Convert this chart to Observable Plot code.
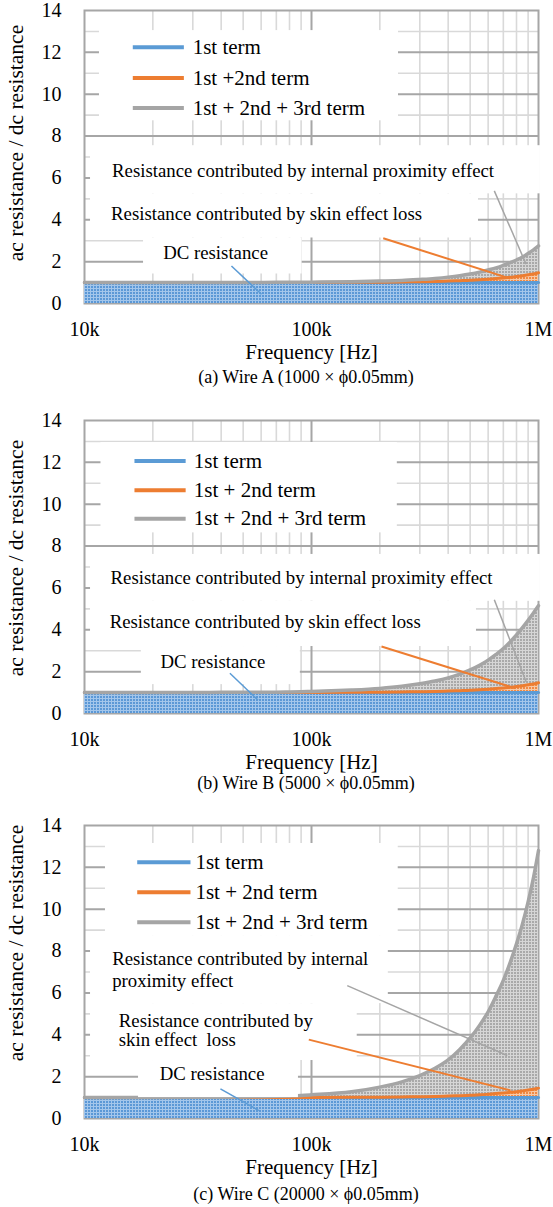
<!DOCTYPE html>
<html><head><meta charset="utf-8">
<script src="https://cdn.jsdelivr.net/npm/d3@7"></script>
<script src="https://cdn.jsdelivr.net/npm/@observablehq/plot@0.6"></script>
<style>
body{margin:0;background:#fff;}
#page{position:relative;width:553px;height:1207px;overflow:hidden;font-family:"Liberation Serif","Times New Roman",serif;background:#fff;}
.panel{position:absolute;left:0;}
.caption{position:absolute;left:0;width:612px;text-align:center;font-size:18px;line-height:22px;color:#000;white-space:pre;}
</style></head><body>
<svg width="0" height="0" style="position:absolute">
<defs>
<pattern id="gridBlue" width="3" height="3" patternUnits="userSpaceOnUse"><rect width="3" height="3" fill="#5b98d6"/><path d="M0 0.5H3M0.5 0V3" stroke="#a3c6eb" stroke-width="1"/></pattern>
<pattern id="gridOrange" width="3" height="3" patternUnits="userSpaceOnUse"><rect width="3" height="3" fill="#f08a45"/><path d="M0 0.5H3M0.5 0V3" stroke="#f8c9a6" stroke-width="1"/></pattern>
<pattern id="gridGray" width="3" height="3" patternUnits="userSpaceOnUse"><rect width="3" height="3" fill="#a9a9a9"/><path d="M0 0.5H3M0.5 0V3" stroke="#d6d6d6" stroke-width="1"/></pattern>
</defs></svg>
<div id="page"></div>
<script>
// ---------- data ----------
const freq = [10000,20000,30000,40000,50000,60000,70000,80000,90000,100000,150000,200000,250000,300000,350000,400000,450000,500000,550000,600000,650000,700000,750000,800000,850000,900000,950000,1000000];
const firstTerm = [1,1,1,1,1,1,1,1,1,1,1,1,1,1,1,1,1,1,1,1,1,1,1,1,1,1,1,1];
const skinA = [1,1,1,1,1,1,1,1,1,1,1.01,1.02,1.03,1.04,1.05,1.07,1.09,1.11,1.14,1.16,1.19,1.22,1.25,1.29,1.33,1.37,1.41,1.47];
const totalA = [1,1,1,1,1,1.005,1.01,1.01,1.015,1.02,1.04,1.07,1.1,1.15,1.2,1.26,1.33,1.41,1.5,1.6,1.7,1.82,1.95,2.08,2.22,2.39,2.56,2.75];
const skinB = [1,1,1,1,1,1,1,1,1,1,1.01,1.02,1.03,1.04,1.05,1.07,1.09,1.11,1.14,1.16,1.19,1.22,1.25,1.29,1.33,1.37,1.41,1.47];
const totalB = [1,1,1,1.01,1.01,1.02,1.02,1.03,1.04,1.05,1.12,1.2,1.3,1.42,1.55,1.7,1.88,2.08,2.3,2.55,2.82,3.1,3.42,3.75,4.1,4.45,4.8,5.15];
const skinC = [1,1,1,1,1,1,1,1,1,1,1.01,1.02,1.03,1.04,1.05,1.07,1.09,1.11,1.13,1.16,1.19,1.22,1.25,1.28,1.32,1.36,1.4,1.45];
const totalC = [1,1,1.01,1.02,1.03,1.04,1.06,1.08,1.1,1.13,1.28,1.5,1.75,2.05,2.4,2.8,3.3,3.85,4.45,5.1,5.85,6.6,7.45,8.35,9.3,10.35,11.5,12.8];

const xTicks = [10000,100000,1000000];
const xTickLabels = ["10k","100k","1M"];
const yTicks = [0,2,4,6,8,10,12,14];
const minorX = [20000,30000,40000,50000,60000,70000,80000,90000,200000,300000,400000,500000,600000,700000,800000,900000];
const majorX = [100000];
const minorY = [1,3,5,7,9,11,13];
const majorY = [2,4,6,8,10,12];

const yTitle = "ac resistance / dc resistance";
const xTitle = "Frequency [Hz]";
const legendA = ["1st term","1st +2nd term","1st + 2nd + 3rd term"];
const legendBC = ["1st term","1st + 2nd term","1st + 2nd + 3rd term"];
const captions = ["(a) Wire A (1000 × ϕ0.05mm)","(b) Wire B (5000 × ϕ0.05mm)","(c) Wire C (20000 × ϕ0.05mm)"];

// legend anchor points (frequency, ratio) per panel
const legendRowsA = [12.24,10.77,9.34], legendSwatchA = [16320,27400], legendTextA = 29960;
const legendRowsB = [12.07,10.67,9.31], legendSwatchB = [16600,27900], legendTextB = 30300;
const legendRowsC = [12.25,10.81,9.38], legendSwatchC = [17070,29300], legendTextC = 30800;

// annotation text (frequency, ratio)
const notesA = [
  {text:"Resistance contributed by internal proximity effect", f:91800, v:6.34, anchor:"middle"},
  {text:"Resistance contributed by skin effect loss", f:63400, v:4.28, anchor:"middle"},
  {text:"DC resistance", f:37800, v:2.40, anchor:"middle"}];
const notesB = [
  {text:"Resistance contributed by internal proximity effect", f:90400, v:6.46, anchor:"middle"},
  {text:"Resistance contributed by skin effect loss", f:62500, v:4.35, anchor:"middle"},
  {text:"DC resistance", f:36800, v:2.48, anchor:"middle"}];
const notesC = [
  {text:"Resistance contributed by internal", f:13240, v:7.63, anchor:"start"},
  {text:"proximity effect", f:13240, v:6.56, anchor:"start"},
  {text:"Resistance contributed by", f:14160, v:4.68, anchor:"start"},
  {text:"skin effect  loss", f:14160, v:3.73, anchor:"start"},
  {text:"DC resistance", f:36500, v:2.14, anchor:"middle"}];

// leader lines (from text to area), term key
const leadersA = [
  {term:"t3", f1:638800, v1:5.38, f2:881900, v2:1.88},
  {term:"t2", f1:207000, v1:3.12, f2:750500, v2:1.19},
  {term:"t1", f1:44400, v1:1.79, f2:60200, v2:0.44}];
const leadersB = [
  {term:"t3", f1:638800, v1:5.44, f2:881900, v2:1.52},
  {term:"t2", f1:203400, v1:3.20, f2:792000, v2:1.20},
  {term:"t1", f1:43700, v1:1.92, f2:58100, v2:0.64}];
const leadersC = [
  {term:"t3", f1:143700, v1:6.35, f2:727900, v2:3.01},
  {term:"t2", f1:97300, v1:3.77, f2:753000, v2:1.34},
  {term:"t1", f1:39700, v1:1.42, f2:58600, v2:0.38}];

// white text-box backgrounds (frequency range, ratio range)
const boxesA = [
  {f1:11640, f2:241700, v1:8.73, v2:13.04},
  {f1:10630, f2:1020000, v1:5.24, v2:7.54},
  {f1:10630, f2:544000, v1:3.13, v2:5.24},
  {f1:18200, f2:90900, v1:1.41, v2:3.13}];
const boxesB = [
  {f1:11820, f2:238800, v1:8.63, v2:12.95},
  {f1:10630, f2:1020000, v1:5.36, v2:7.6},
  {f1:10630, f2:533000, v1:3.20, v2:5.36},
  {f1:17800, f2:89300, v1:1.38, v2:3.20}];
const boxesC = [
  {f1:12370, f2:241000, v1:8.74, v2:13.14},
  {f1:10630, f2:218000, v1:5.49, v2:8.74},
  {f1:10630, f2:159000, v1:2.77, v2:5.49},
  {f1:17300, f2:87600, v1:1.0, v2:2.77}];

// ---------- styles ----------
const colors = {t1:"#5b9bd5", t2:"#ed7d31", t3:"#a5a5a5"};
const fills = {t1:"url(#gridBlue)", t2:"url(#gridOrange)", t3:"url(#gridGray)"};
const font = "Liberation Serif";

const panels = [
  {top:0, skin:skinA, total:totalA, legend:legendA, rows:legendRowsA, sw:legendSwatchA, lt:legendTextA, notes:notesA, leaders:leadersA, boxes:boxesA, yDy:-14, caption:captions[0], capY:377},
  {top:410, skin:skinB, total:totalB, legend:legendBC, rows:legendRowsB, sw:legendSwatchB, lt:legendTextB, notes:notesB, leaders:leadersB, boxes:boxesB, yDy:-9, caption:captions[1], capY:783},
  {top:815, skin:skinC, total:totalC, legend:legendBC, rows:legendRowsC, sw:legendSwatchC, lt:legendTextC, notes:notesC, leaders:leadersC, boxes:boxesC, yDy:-29, caption:captions[2], capY:1194}
];

const page = document.getElementById("page");
const curve = "monotone-x";

for (const p of panels) {
  const rows = freq.map((f,i) => ({f, t1:firstTerm[i], t2:p.skin[i], t3:p.total[i]}));
  const legendData = p.legend.map((label,i) => ({label, term:["t1","t2","t3"][i], v:p.rows[i]}));
  const plot = Plot.plot({
    width:553, height:365,
    marginTop:10, marginBottom:62, marginLeft:84, marginRight:15,
    style:{fontFamily:font, fontSize:"20px", color:"#000", background:"transparent", overflow:"visible"},
    x:{type:"log", domain:[1e4,1e6], ticks:xTicks, tickFormat:d => xTickLabels[xTicks.indexOf(d)], tickSize:0, tickPadding:18, label:null},
    y:{domain:[0,14], ticks:yTicks, tickSize:0, tickPadding:23, label:null},
    marks:[
      Plot.ruleX(minorX, {stroke:"#d9d9d9", strokeWidth:1.6}),
      Plot.ruleY(minorY, {stroke:"#d9d9d9", strokeWidth:1.6}),
      Plot.ruleX(majorX, {stroke:"#a6a6a6", strokeWidth:2}),
      Plot.ruleY(majorY, {stroke:"#a6a6a6", strokeWidth:2}),
      Plot.frame({stroke:"#a6a6a6", strokeWidth:2}),
      Plot.areaY(rows, {x:"f", y1:0, y2:"t1", fill:fills.t1, curve}),
      Plot.areaY(rows, {x:"f", y1:"t1", y2:"t2", fill:fills.t2, curve}),
      Plot.areaY(rows, {x:"f", y1:"t2", y2:"t3", fill:fills.t3, curve}),
      Plot.lineY(rows, {x:"f", y:"t1", stroke:colors.t1, strokeWidth:3, curve}),
      Plot.lineY(rows, {x:"f", y:"t2", stroke:colors.t2, strokeWidth:3, curve}),
      Plot.lineY(rows, {x:"f", y:"t3", stroke:colors.t3, strokeWidth:3.5, curve}),
      Plot.rect(p.boxes, {x1:"f1", x2:"f2", y1:"v1", y2:"v2", fill:"white"}),
      Plot.link(p.leaders, {x1:"f1", y1:"v1", x2:"f2", y2:"v2", stroke:d => colors[d.term], strokeWidth:d => d.term === "t2" ? 2 : 1.5}),
      ...p.notes.map(n => Plot.text([n], {x:"f", y:"v", text:"text", textAnchor:n.anchor, lineAnchor:"middle", fontSize:18.8, fontFamily:font, fill:"#000"})),
      Plot.link(legendData, {x1:() => p.sw[0], x2:() => p.sw[1], y1:"v", y2:"v", stroke:d => colors[d.term], strokeWidth:4}),
      Plot.text(legendData, {x:() => p.lt, y:"v", text:"label", textAnchor:"start", lineAnchor:"middle", fontSize:21, fontFamily:font, fill:"#000"}),
      Plot.text([yTitle], {frameAnchor:"left", textAnchor:"middle", lineAnchor:"middle", dx:-68, dy:p.yDy, rotate:-90, fontSize:21.5, fontFamily:font, fill:"#000"}),
      Plot.text([xTitle], {frameAnchor:"bottom", textAnchor:"middle", lineAnchor:"middle", dy:49, fontSize:21, fontFamily:font, fill:"#000"})
    ]
  });
  const wrap = document.createElement("div");
  wrap.className = "panel";
  wrap.style.top = p.top + "px";
  wrap.appendChild(plot);
  page.appendChild(wrap);
  const cap = document.createElement("div");
  cap.className = "caption";
  cap.style.top = (p.capY - 11) + "px";
  cap.textContent = p.caption;
  page.appendChild(cap);
}
</script>
</body></html>
